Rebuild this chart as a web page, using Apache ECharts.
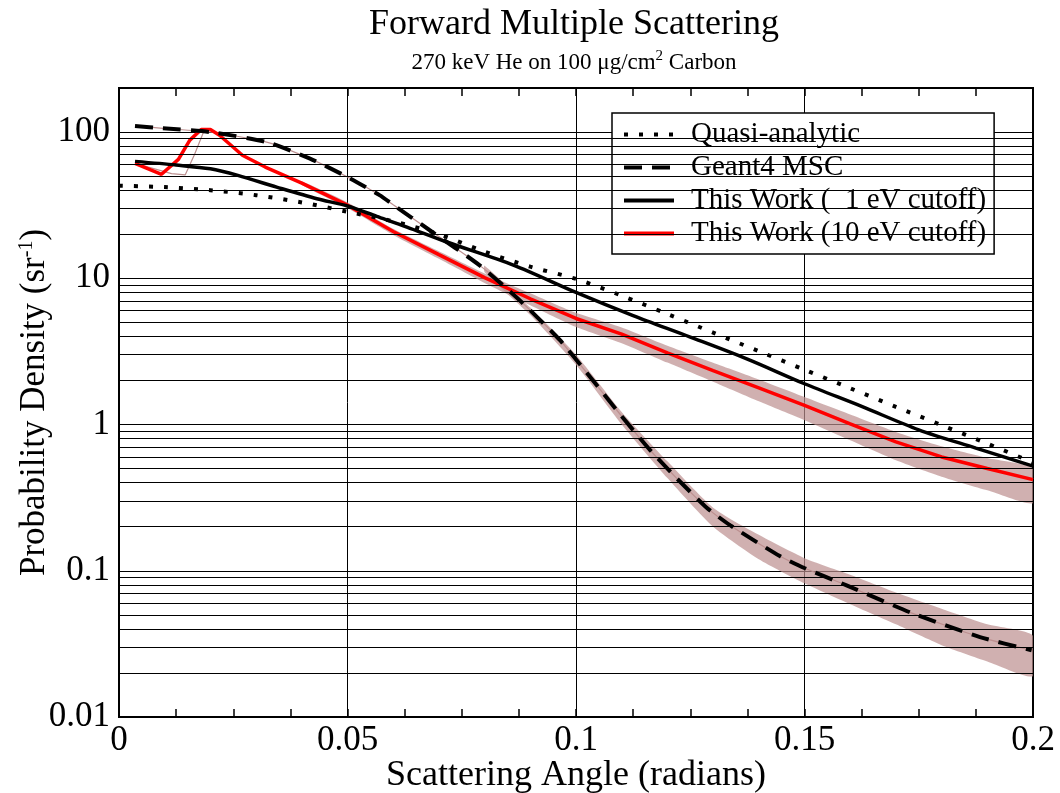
<!DOCTYPE html>
<html>
<head>
<meta charset="utf-8">
<script src="https://cdn.jsdelivr.net/npm/echarts@6/dist/echarts.min.js"></script>
<style>html,body{margin:0;background:#fff}#main{width:1060px;height:793px}</style>
</head>
<body>
<div id="main"></div>
<script>
const FONT = 'Liberation Serif';

// Quasi-analytic (dotted)
const quasiAngle = [0, 0.01, 0.02, 0.03, 0.04, 0.05, 0.06, 0.07, 0.08, 0.09, 0.10, 0.11, 0.12, 0.13, 0.14, 0.15, 0.16, 0.17, 0.18, 0.19, 0.20];
const quasiDensity = [43, 42, 40, 37, 33, 28.5, 24.5, 20, 15.2, 12, 9.9, 7.6, 5.7, 4.25, 3.17, 2.37, 1.77, 1.32, 0.99, 0.74, 0.55];

// Geant4 MSC (dashed)
const g4Angle = [0.0035, 0.0096, 0.0199, 0.0323, 0.0418, 0.05, 0.0571, 0.06, 0.068, 0.079, 0.0877, 0.0965, 0.1031, 0.1096, 0.116, 0.122, 0.1286, 0.1337, 0.1446, 0.1501, 0.1592, 0.1738, 0.1884, 0.1997];
const g4Density = [110, 106, 100, 85.4, 65.8, 49.2, 36.9, 31.8, 21.3, 12.2, 7.06, 3.77, 2.11, 1.18, 0.68, 0.43, 0.27, 0.205, 0.126, 0.104, 0.0795, 0.0509, 0.0352, 0.0286];

// This Work, 1 eV cutoff (solid black)
const work1Angle = [0.0035, 0.0125, 0.02, 0.026, 0.0345, 0.0433, 0.05, 0.0564, 0.063, 0.0717, 0.0863, 0.10, 0.1125, 0.125, 0.1375, 0.15, 0.1625, 0.175, 0.1875, 0.20];
const work1Density = [63, 59.5, 56, 50.5, 42, 35, 31.2, 26.5, 22.4, 17.7, 12.3, 8.0, 5.55, 3.96, 2.8, 1.9, 1.33, 0.92, 0.69, 0.52];

// This Work, 10 eV cutoff (red)
const work10Angle = [0.0035, 0.0093, 0.013, 0.0155, 0.018, 0.02, 0.022, 0.027, 0.032, 0.04, 0.05, 0.06, 0.07, 0.08, 0.09, 0.10, 0.11, 0.12, 0.13, 0.14, 0.15, 0.16, 0.17, 0.18, 0.19, 0.20];
const work10Density = [61, 51.4, 65, 88, 104, 104, 95, 69.4, 57.6, 44.7, 31.6, 20.9, 14.5, 10.1, 7.24, 5.31, 4.15, 3.09, 2.34, 1.78, 1.35, 1.01, 0.76, 0.60, 0.50, 0.42];

// raw 10 eV histogram near the start (thin brown)
const raw10Angle = [0.0035, 0.0115, 0.0145, 0.0165, 0.0185, 0.02];
const raw10Density = [61, 52, 51, 70, 100, 104];

// spread of the raw histograms (brown band)
const g4SpreadAngle = [0.08, 0.09, 0.10, 0.11, 0.12, 0.13, 0.14, 0.15, 0.16, 0.17, 0.18, 0.19, 0.20];
const g4SpreadHigh = [12.2, 6.3, 3.0, 1.22, 0.56, 0.27, 0.176, 0.122, 0.094, 0.071, 0.055, 0.043, 0.036];
const g4SpreadLow = [11.0, 5.6, 2.56, 1.0, 0.43, 0.2, 0.12, 0.082, 0.059, 0.043, 0.031, 0.024, 0.019];
const w10SpreadAngle = [0.04, 0.05, 0.06, 0.07, 0.08, 0.09, 0.10, 0.11, 0.12, 0.13, 0.14, 0.15, 0.16, 0.17, 0.18, 0.19, 0.20];
const w10SpreadHigh = [46.0, 33.0, 21.8, 15.3, 10.8, 7.9, 5.8, 4.6, 3.45, 2.64, 2.03, 1.54, 1.17, 0.89, 0.71, 0.59, 0.50];
const w10SpreadLow = [43.4, 30.2, 19.8, 13.6, 9.3, 6.55, 4.65, 3.6, 2.65, 1.96, 1.44, 1.07, 0.78, 0.57, 0.44, 0.355, 0.29];

const yTickLabels = ['0.01', '0.1', '1', '10', '100'];
const minorSteps = [2, 3, 4, 5, 6, 7, 8, 9];
const decades = [0.01, 0.1, 1, 10];
const minorGrid = decades.flatMap(d => minorSteps.map(m => +(d * m).toPrecision(3)));

const legendNames = ['Quasi-analytic', 'Geant4 MSC', 'This Work (  1 eV cutoff)', 'This Work (10 eV cutoff)'];

const pairs = (xs, ys) => xs.map((x, i) => [x, ys[i]]);
const bands = [
  [g4SpreadAngle, g4SpreadHigh, g4SpreadLow],
  [w10SpreadAngle, w10SpreadHigh, w10SpreadLow]
];

const chart = echarts.init(document.getElementById('main'));

const xCommon = {
  type: 'value', min: 0, max: 0.2, interval: 0.05,
  axisLine: { show: false },
  axisTick: { show: true, inside: true, length: 8, lineStyle: { color: '#000', width: 1.5 } },
  minorTick: { show: true, splitNumber: 4, length: 8, lineStyle: { color: '#000', width: 1.5 } }
};

chart.setOption({
  animation: false,
  backgroundColor: '#fff',
  title: {
    text: 'Forward Multiple Scattering',
    subtext: '270 keV He on 100 μg/cm{sup|2} Carbon',
    left: 569, textAlign: 'center', top: 2, itemGap: 6,
    textStyle: { fontFamily: FONT, fontSize: 36, fontWeight: 'normal', color: '#000' },
    subtextStyle: {
      fontFamily: FONT, fontSize: 23, color: '#000',
      rich: { sup: { fontFamily: FONT, fontSize: 15, color: '#000', padding: [0, 0, 12, 0] } }
    }
  },
  legend: {
    data: legendNames,
    orient: 'vertical',
    left: 612, top: 113,
    padding: [7, 8, 6, 10],
    itemGap: 4, itemWidth: 50, itemHeight: 4,
    backgroundColor: '#fff', borderColor: '#000', borderWidth: 1.5,
    itemStyle: { opacity: 0, borderWidth: 0 },
    lineStyle: { width: 4 },
    textStyle: { fontFamily: FONT, fontSize: 29, color: '#000', padding: [0, 0, 0, 12] }
  },
  grid: { left: 119, right: 27, top: 88, bottom: 76, show: true, borderColor: '#000', borderWidth: 2, outerBoundsMode: 'none' },
  xAxis: [
    Object.assign({}, xCommon, {
      position: 'bottom',
      name: 'Scattering Angle (radians)', nameLocation: 'middle', nameGap: 41, nameMoveOverlap: false,
      nameTextStyle: { fontFamily: FONT, fontSize: 36, color: '#000' },
      axisLabel: { fontFamily: FONT, fontSize: 35, color: '#000', margin: 6 },
      splitLine: { show: true, lineStyle: { color: '#000', width: 1 } }
    }),
    Object.assign({}, xCommon, {
      position: 'top',
      axisLabel: { show: false },
      splitLine: { show: false }
    })
  ],
  yAxis: {
    type: 'log', logBase: 10, min: 0.01, max: 200,
    name: 'Probability Density (sr{sup|-1})', nameLocation: 'middle', nameGap: 66, nameMoveOverlap: false,
    nameTextStyle: {
      fontFamily: FONT, fontSize: 35, color: '#000',
      rich: { sup: { fontFamily: FONT, fontSize: 20, color: '#000', padding: [0, 0, 16, 0] } }
    },
    axisLine: { show: false },
    axisTick: { show: false },
    axisLabel: {
      fontFamily: FONT, fontSize: 35, color: '#000', margin: 9,
      formatter: v => {
        const e = Math.log10(v);
        return Math.abs(e - Math.round(e)) < 1e-6 ? (yTickLabels[Math.round(e) + 2] || '') : '';
      }
    },
    splitLine: { show: true, lineStyle: { color: '#000', width: 1 } }
  },
  series: [
    {
      name: 'minor grid', type: 'line', data: [], silent: true,
      markLine: {
        silent: true, symbol: 'none', label: { show: false },
        lineStyle: { color: '#000', width: 1, type: 'solid' },
        data: minorGrid.map(v => ({ yAxis: v }))
      }
    },
    {
      name: 'spread', type: 'custom', clip: true, z: 2,
      data: [[0.1, 1], [0.1, 1]],
      renderItem: (params, api) => {
        const [xs, hi, lo] = bands[params.dataIndex];
        const pts = xs.map((x, i) => api.coord([x, hi[i]]));
        for (let i = xs.length - 1; i >= 0; i--) pts.push(api.coord([xs[i], lo[i]]));
        return { type: 'polygon', shape: { points: pts, smooth: 0.2 }, style: { fill: '#bc8f8f', opacity: 0.7 } };
      }
    },
    {
      name: 'raw g4', type: 'line', data: pairs(g4Angle, g4Density), symbol: 'none', z: 3,
      lineStyle: { color: '#bc8f8f', width: 1.2 }, smooth: 0.2
    },
    {
      name: 'raw 10', type: 'line', data: pairs(raw10Angle, raw10Density), symbol: 'none', z: 3,
      lineStyle: { color: '#bc8f8f', width: 1.2 }
    },
    {
      name: legendNames[3], type: 'line', data: pairs(work10Angle, work10Density), symbol: 'none', z: 4,
      color: '#ff0000', lineStyle: { color: '#ff0000', width: 3.5 }
    },
    {
      name: legendNames[2], type: 'line', data: pairs(work1Angle, work1Density), symbol: 'none', z: 5,
      color: '#000', lineStyle: { color: '#000', width: 3.5 }, smooth: 0.3
    },
    {
      name: legendNames[1], type: 'line', data: pairs(g4Angle, g4Density), symbol: 'none', z: 6,
      color: '#000', lineStyle: { color: '#000', width: 4, type: [18, 10] }, smooth: 0.2
    },
    {
      name: legendNames[0], type: 'line', data: pairs(quasiAngle, quasiDensity), symbol: 'none', z: 7,
      color: '#000', lineStyle: { color: '#000', width: 4, type: [4, 11] }, smooth: 0.3
    }
  ]
});
</script>
</body>
</html>
